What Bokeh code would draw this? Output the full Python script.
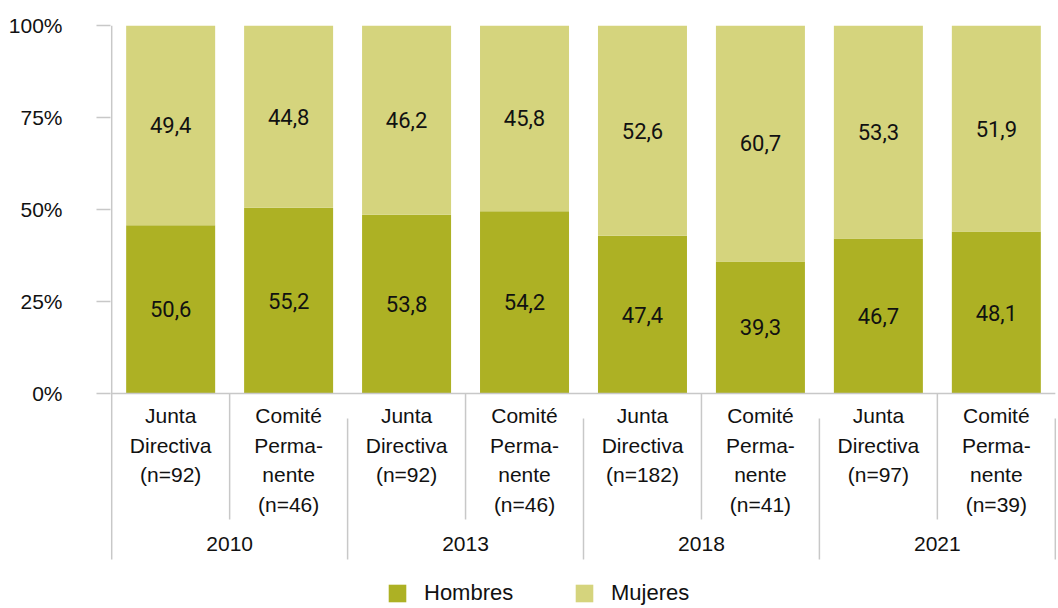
from bokeh.plotting import figure
from bokeh.models import Range1d, FixedTicker, ColumnDataSource, Legend, LegendItem
from bokeh.core.properties import value
from bokeh.embed import file_html
from bokeh.resources import INLINE

# ---------------- data ----------------
years = ["2010", "2013", "2018", "2021"]
categories = [
    "Junta\nDirectiva\n(n=92)", "Comité\nPerma-\nnente\n(n=46)",
    "Junta\nDirectiva\n(n=92)", "Comité\nPerma-\nnente\n(n=46)",
    "Junta\nDirectiva\n(n=182)", "Comité\nPerma-\nnente\n(n=41)",
    "Junta\nDirectiva\n(n=97)", "Comité\nPerma-\nnente\n(n=39)",
]
# bar heights of the "Hombres" segment as drawn in the picture (%)
hombres_bar = [45.7, 50.5, 48.6, 49.5, 42.9, 35.9, 42.1, 44.0]
hombres_labels = ["50,6", "55,2", "53,8", "54,2", "47,4", "39,3", "46,7", "48,1"]
mujeres_labels = ["49,4", "44,8", "46,2", "45,8", "52,6", "60,7", "53,3", "51,9"]
y_ticks = [0, 25, 50, 75, 100]
y_tick_labels = ["0%", "25%", "50%", "75%", "100%"]
series_names = ["Hombres", "Mujeres"]

# ---------------- layout ----------------
W, H = 1058, 608
LEFT, TOP, RIGHT = 110, 25, 2
PX_PER_PCT = 3.68
Y_MIN = 100 - (H - TOP) / PX_PER_PCT
C_H = "#adb124"
C_M = "#d5d47d"
C_SEP = "#c8c8c8"
TXT = "#111111"
LABEL_FONT = "Liberation Sans"


def y_at(px):
    return 100 - (px - TOP) / PX_PER_PCT


n = len(categories)
per_group = n // len(years)
px_per_cat = (W - LEFT - RIGHT) / (n + 0.02)

p = figure(width=W, height=H,
           x_range=Range1d(-0.01, n + 0.01), y_range=Range1d(Y_MIN, 100),
           output_backend="svg", toolbar_location=None,
           min_border_left=LEFT, min_border_right=RIGHT,
           min_border_top=TOP, min_border_bottom=0,
           x_axis_location=None)
p.xgrid.visible = False
p.ygrid.visible = False
p.outline_line_color = None
p.background_fill_color = "white"

ax = p.yaxis[0]
ax.ticker = FixedTicker(ticks=y_ticks)
ax.major_label_overrides = dict(zip(y_ticks, y_tick_labels))
ax.minor_tick_line_color = None
ax.axis_line_color = None
ax.major_tick_line_color = C_SEP
ax.major_tick_line_width = 1.5
ax.major_tick_out = 14
ax.major_tick_in = 0
ax.major_label_standoff = 34
ax.major_label_text_font = LABEL_FONT
ax.major_label_text_font_size = "21px"
ax.major_label_text_color = TXT

xs = [i + 0.5 for i in range(n)]
src = ColumnDataSource(dict(
    x=xs,
    h=hombres_bar,
    top=[100] * n,
    htxt=hombres_labels,
    mtxt=mujeres_labels,
    hy=[v / 2 for v in hombres_bar],
    my=[(v + 100) / 2 for v in hombres_bar],
))

BAR_W = 89 / px_per_cat
rh = p.vbar(x="x", width=BAR_W, bottom=0, top="h", source=src,
            fill_color=C_H, line_color=None)
rm = p.vbar(x="x", width=BAR_W, bottom="h", top="top", source=src,
            fill_color=C_M, line_color=None)

for col_y, col_t in (("hy", "htxt"), ("my", "mtxt")):
    p.text(x="x", y=col_y, text=col_t, source=src,
           text_align="center", text_baseline="middle",
           text_font=value("Roboto"), text_font_size="22px", text_color=TXT)

# axis / separator lines
x0s, y0s, x1s, y1s = [], [], [], []
x0s.append(0); y0s.append(100); x1s.append(0); y1s.append(y_at(559))
x0s.append(-0.01); y0s.append(0); x1s.append(n); y1s.append(0)
for i in range(1, n + 1):
    if i % per_group == 0:
        x0s.append(i); y0s.append(y_at(418)); x1s.append(i); y1s.append(y_at(559))
    else:
        x0s.append(i); y0s.append(0); x1s.append(i); y1s.append(y_at(519))
p.segment(x0=x0s, y0=y0s, x1=x1s, y1=y1s, line_color=C_SEP, line_width=1.5)

# category labels (one text per line)
cx, cy, ct = [], [], []
for i, cat in enumerate(categories):
    for k, line in enumerate(cat.split("\n")):
        cx.append(i + 0.5)
        cy.append(y_at(415 + 29.5 * k))
        ct.append(line)
p.text(x=cx, y=cy, text=ct, text_align="center", text_baseline="middle",
       text_font=value(LABEL_FONT), text_font_size="21px", text_color=TXT)

# group (year) labels
gx = [g * per_group + per_group / 2 for g in range(len(years))]
p.text(x=gx, y=[y_at(543)] * len(years), text=years,
       text_align="center", text_baseline="middle",
       text_font=value(LABEL_FONT), text_font_size="21px", text_color=TXT)

legend = Legend(items=[LegendItem(label=series_names[0], renderers=[rh]),
                       LegendItem(label=series_names[1], renderers=[rm])],
                orientation="horizontal", location=(276, 2))
legend.border_line_color = None
legend.background_fill_alpha = 0
legend.padding = 0
legend.margin = 0
legend.spacing = 49
legend.glyph_width = 22
legend.glyph_height = 22
legend.label_standoff = 16
legend.label_width = 100
legend.label_height = 22
legend.label_text_font = LABEL_FONT
legend.label_text_font_size = "22px"
legend.label_text_color = TXT
p.add_layout(legend)

open("out.html", "w").write(file_html(p, INLINE))
